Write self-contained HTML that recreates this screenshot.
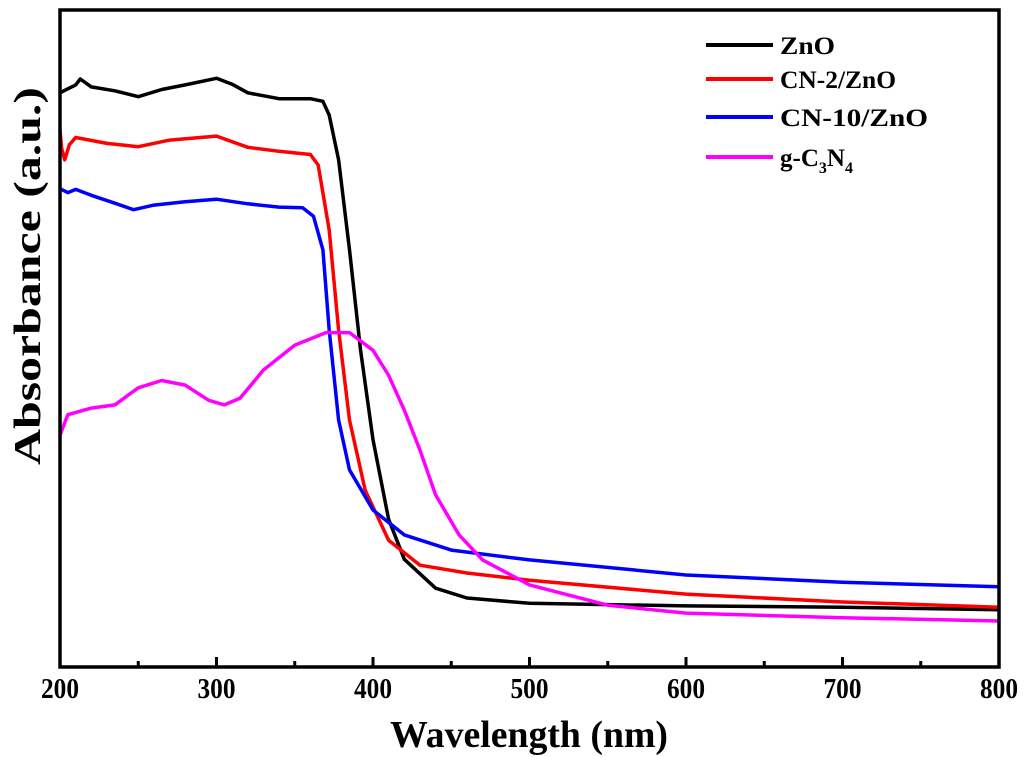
<!DOCTYPE html>
<html><head><meta charset="utf-8"><style>
html,body{margin:0;padding:0;background:#fff;}
svg{display:block;font-family:"Liberation Serif",serif;font-weight:bold;}
</style></head><body>
<svg id="chart" width="1024" height="757" viewBox="0 0 1024 757" xmlns="http://www.w3.org/2000/svg">
<g id="series"></g>
<g id="axes"></g>
<g id="legend"></g>
<text x="390" y="747" font-size="38" textLength="278" lengthAdjust="spacingAndGlyphs">Wavelength (nm)</text>
<text transform="translate(40,465) rotate(-90)" font-size="38" textLength="378" lengthAdjust="spacingAndGlyphs">Absorbance (a.u.)</text>
</svg>
<script>
const xTicks = [200,300,400,500,600,700,800];
const minorTicks = [250,350,450,550,650,750];
const seriesNames = ["ZnO","CN-2/ZnO","CN-10/ZnO","g-C3N4"];
const seriesColors = ["#000000","#ff0000","#0000ff","#ff00ff"];
const znoX = [200,205,210,213,220,235,250,265,280,300,310,320,340,360,368,372,378,385,392,400,410,420,440,460,500,600,700,800];
const znoY = [0.874,0.880,0.886,0.895,0.883,0.877,0.868,0.879,0.886,0.896,0.887,0.874,0.865,0.865,0.861,0.840,0.772,0.635,0.483,0.346,0.225,0.164,0.120,0.105,0.097,0.093,0.091,0.087];
const cn2X = [200,201,203,206,210,230,250,270,300,320,340,360,365,372,378,385,395,410,430,460,500,600,700,800];
const cn2Y = [0.817,0.790,0.772,0.795,0.806,0.797,0.792,0.802,0.808,0.791,0.785,0.780,0.764,0.665,0.513,0.376,0.269,0.193,0.155,0.143,0.132,0.111,0.099,0.091];
const cn10X = [200,205,210,220,235,247,260,280,300,320,340,355,362,368,372,378,385,400,420,450,500,600,700,800];
const cn10Y = [0.728,0.722,0.727,0.718,0.706,0.696,0.703,0.708,0.712,0.705,0.700,0.699,0.686,0.635,0.513,0.376,0.300,0.239,0.201,0.178,0.163,0.140,0.129,0.122];
const gcnX = [200,205,220,235,250,265,280,295,305,315,330,350,370,385,400,410,420,430,440,455,470,500,550,600,700,800];
const gcnY = [0.353,0.384,0.394,0.399,0.425,0.436,0.429,0.406,0.399,0.409,0.452,0.490,0.509,0.509,0.482,0.444,0.391,0.330,0.262,0.201,0.163,0.125,0.094,0.082,0.075,0.070];

const L=60,R=999,T=10,B=667;
const xs = v => L + (v-200)/(600)*(R-L);
const ys = v => B - v*(B-T);
const NS="http://www.w3.org/2000/svg";
function mk(tag, attrs, parent){const e=document.createElementNS(NS,tag);for(const k in attrs)e.setAttribute(k,attrs[k]);parent.appendChild(e);return e;}
const sg=document.getElementById('series'), ag=document.getElementById('axes'), lg=document.getElementById('legend');
const allX=[znoX,cn2X,cn10X,gcnX], allY=[znoY,cn2Y,cn10Y,gcnY];
const keys=["zno","cn-2-zno","cn-10-zno","g-c3n4"];
for(let s=0;s<4;s++){
  const d=allX[s].map((x,i)=>(i?'L':'M')+xs(x).toFixed(1)+','+ys(allY[s][i]).toFixed(1)).join(' ');
  const p=mk('path',{d:d,fill:'none',stroke:seriesColors[s],'stroke-width':3.5,'stroke-linejoin':'round'},sg);
  
  
}
const fr=mk('rect',{x:L,y:T,width:R-L,height:B-T,fill:'none',stroke:'#000','stroke-width':3.5},ag);


xTicks.forEach(v=>{
  const t=mk('line',{x1:xs(v),x2:xs(v),y1:B,y2:B-10,stroke:'#000','stroke-width':3},ag);
  
  
  const tx=mk('text',{x:xs(v)-19,y:B+31,'font-size':28,textLength:38,lengthAdjust:'spacingAndGlyphs'},ag);
  tx.textContent=v;
  
  
});
minorTicks.forEach(v=>{
  const t=mk('line',{x1:xs(v),x2:xs(v),y1:B,y2:B-6,stroke:'#000','stroke-width':3},ag);
  
  
});
const ly=[45,79,117,157];
const lw=[55,116,148,0];
for(let s=0;s<4;s++){
  const g=mk('g',{},lg);
  
  
  mk('line',{x1:706,x2:773,y1:ly[s],y2:ly[s],stroke:seriesColors[s],'stroke-width':4},g);
  const t=mk('text',{x:780,y:ly[s]+9,'font-size':25},g);
  if(s===3){t.innerHTML='g-C<tspan font-size="16" dy="7">3</tspan><tspan dy="-7">N</tspan><tspan font-size="16" dy="7">4</tspan>';}
  else {t.textContent=seriesNames[s];t.setAttribute('textLength',lw[s]);t.setAttribute('lengthAdjust','spacingAndGlyphs');}
}
</script>
</body></html>
